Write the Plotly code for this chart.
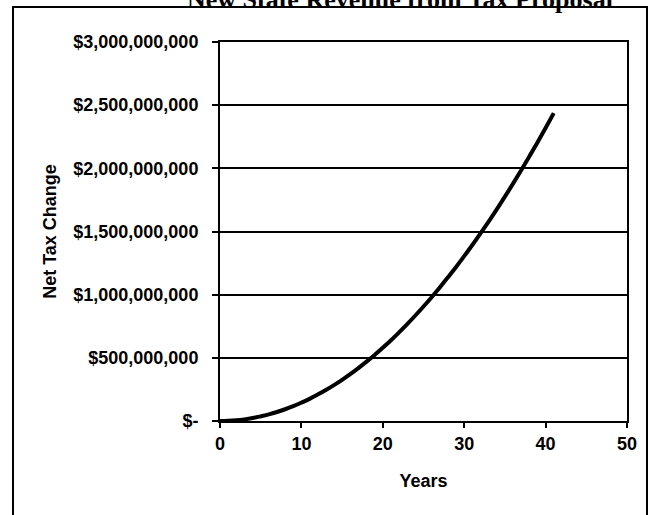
import plotly.graph_objects as go

# Data
years = list(range(0, 42))
net_tax_billions = [
    0.000, 0.002, 0.006, 0.013, 0.023, 0.037, 0.052, 0.071, 0.093, 0.117,
    0.145, 0.175, 0.209, 0.245, 0.284, 0.326, 0.371, 0.419, 0.470, 0.523,
    0.580, 0.639, 0.702, 0.767, 0.835, 0.906, 0.980, 1.057, 1.137, 1.219,
    1.305, 1.393, 1.485, 1.579, 1.676, 1.776, 1.879, 1.985, 2.094, 2.205,
    2.320, 2.437,
]
net_tax = [v * 1e9 for v in net_tax_billions]

y_tickvals = [0, 5e8, 1e9, 1.5e9, 2e9, 2.5e9, 3e9]
y_ticktext = ["$-", "$500,000,000", "$1,000,000,000", "$1,500,000,000",
              "$2,000,000,000", "$2,500,000,000", "$3,000,000,000"]
x_tickvals = [0, 10, 20, 30, 40, 50]

W, H = 649, 515
L, R, T, B = 220, 22, 42, 94
pw = W - L - R
ph = H - T - B

font_fam = "Arial, Liberation Sans, sans-serif"

fig = go.Figure()
fig.add_trace(go.Scatter(
    x=years, y=net_tax, mode="lines",
    line=dict(color="black", width=4, shape="spline"),
    showlegend=False, hoverinfo="skip",
))

fig.update_layout(
    width=W, height=H,
    margin=dict(l=L, r=R, t=T, b=B),
    paper_bgcolor="white", plot_bgcolor="white",
    font=dict(family=font_fam, color="black", size=18, weight="bold"),
    showlegend=False,
)

fig.update_xaxes(
    range=[0, 50], tickvals=x_tickvals,
    showgrid=False, zeroline=False,
    showline=True, linecolor="black", linewidth=2, mirror=True,
    ticks="outside", ticklen=5, tickwidth=2, tickcolor="black",
    tickfont=dict(family=font_fam, size=18, weight="bold", color="black"),
    title=dict(text="Years", font=dict(family=font_fam, size=18, weight="bold", color="black"), standoff=22),
)
fig.update_yaxes(
    range=[0, 3e9], tickvals=y_tickvals, ticktext=y_ticktext,
    showgrid=True, gridcolor="black", gridwidth=2, zeroline=False,
    showline=True, linecolor="black", linewidth=2, mirror=True,
    ticks="outside", ticklen=6, tickwidth=2, tickcolor="black",
    ticklabelstandoff=10,
    tickfont=dict(family=font_fam, size=18, weight="bold", color="black"),
    title=dict(text="Net Tax Change", font=dict(family=font_fam, size=18, weight="bold", color="black"), standoff=12),
)

# outer frame around the chart
fig.add_shape(
    type="rect", xref="paper", yref="paper",
    x0=(13 - L) / pw, x1=(647 - L) / pw,
    y0=(H - B - 530) / ph, y1=(H - B - 7) / ph,
    line=dict(color="black", width=2), fillcolor="rgba(0,0,0,0)", layer="below",
)

# page title, mostly clipped at the very top as in the scan
fig.add_annotation(
    text="New State Revenue from Tax Proposal",
    xref="paper", yref="paper",
    x=(400 - L) / pw, y=(H - B - 16) / ph,
    xanchor="center", yanchor="bottom",
    showarrow=False,
    font=dict(family="Liberation Serif, Times New Roman, serif", size=26, weight="bold", color="black"),
)

fig.write_html(
    "out.html",
    config={"displayModeBar": False},
    post_script="document.body.style.margin='0';document.body.style.padding='0';",
)
